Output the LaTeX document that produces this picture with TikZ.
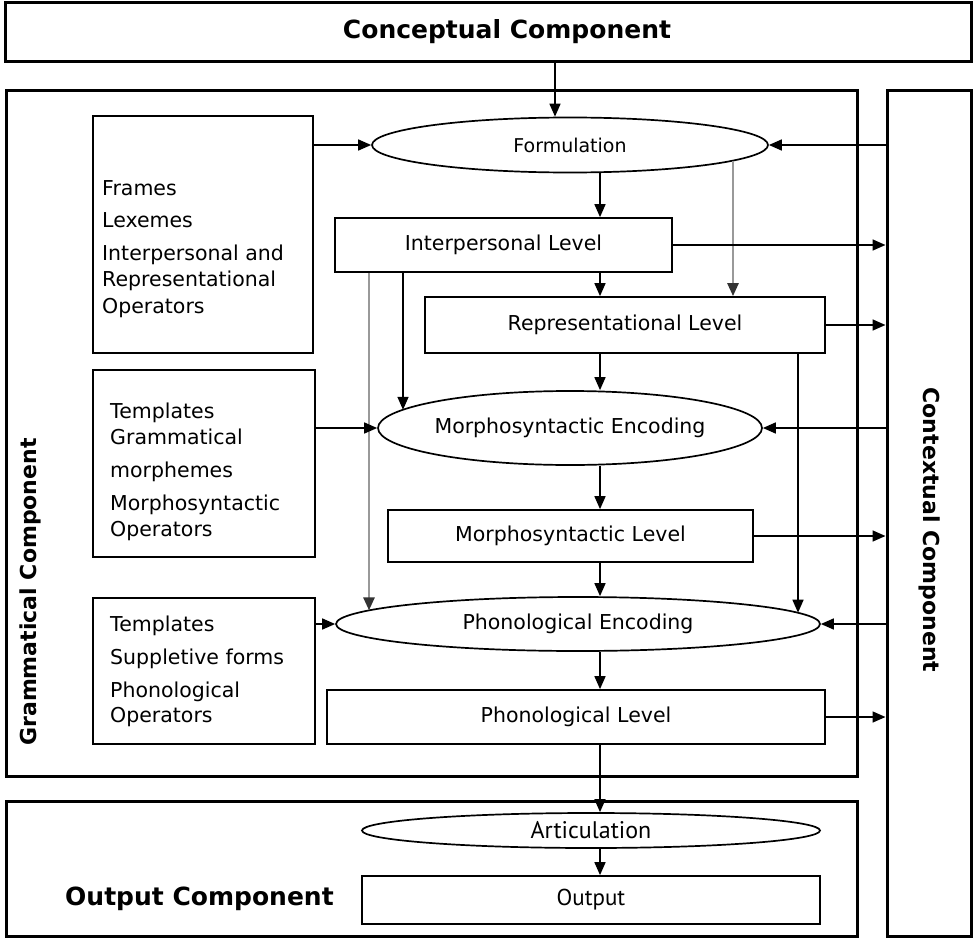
\documentclass[tikz,border=0pt]{standalone}
\usepackage{fontspec}
\setmainfont{DejaVu Sans}
\newfontfamily\ptsans{PT Sans}
\usetikzlibrary{arrows.meta,shapes.geometric,calc}
\begin{document}
\begin{tikzpicture}[x=1pt,y=-1pt,
  outerbox/.style={draw, line width=3pt, inner sep=0pt},
  innerbox/.style={draw, line width=1.7pt, inner sep=0pt, font=\fontsize{20.5}{24}\selectfont},
  ell/.style={draw, ellipse, line width=1.7pt, inner sep=0pt, font=\fontsize{20.5}{24}\selectfont},
  titletext/.style={font=\bfseries\fontsize{25}{30}\selectfont, inner sep=0pt},
  sidetext/.style={font=\bfseries\fontsize{22}{26}\selectfont, inner sep=0pt},
  listtext/.style={font=\fontsize{20.5}{24}\selectfont, inner sep=0pt, anchor=base west},
  arr/.style={line width=1.6pt, -{Triangle[length=13pt,width=11pt]}},
  garr/.style={line width=2.6pt, draw=black!40, -{Triangle[length=13pt,width=11pt,color=black!80]}}
]
\useasboundingbox (0,0) rectangle (974,939);
% outer components
\node[outerbox, minimum width=966pt, minimum height=59pt] (cc) at (488,32.5) {};
\node[titletext] (cct) at (507,32) {Conceptual Component};
\node[outerbox, minimum width=851pt, minimum height=685pt] (gc) at (431.5,433.5) {};
\node[outerbox, minimum width=84pt, minimum height=845pt] (ctx) at (929,513.5) {};
\node[outerbox, minimum width=851pt, minimum height=135pt] (oc) at (431.5,868.5) {};
\node[sidetext, rotate=90] (gct) at (30,592) {Grammatical Component};
\node[sidetext, rotate=-90] (xct) at (930,530) {Contextual Component};
\node[titletext, anchor=west] (oct) at (65,899) {Output Component};

% left boxes
\node[innerbox, minimum width=220pt, minimum height=237pt] (lb) at (203,234.5) {};
\node[listtext] (t11) at (102,195) {Frames};
\node[listtext] (t12) at (102,227) {Lexemes};
\node[listtext] (t13) at (102,260) {Interpersonal and};
\node[listtext] (t14) at (102,286) {Representational};
\node[listtext] (t15) at (102,313) {Operators};

\node[innerbox, minimum width=222pt, minimum height=187pt] (mb) at (204,463.5) {};
\node[listtext] (t21) at (110,418) {Templates};
\node[listtext] (t22) at (110,444) {Grammatical};
\node[listtext] (t23) at (110,477) {morphemes};
\node[listtext] (t24) at (110,510) {Morphosyntactic};
\node[listtext] (t25) at (110,536) {Operators};

\node[innerbox, minimum width=222pt, minimum height=146pt] (pb) at (204,671) {};
\node[listtext] (t31) at (110,631) {Templates};
\node[listtext] (t32) at (110,664) {Suppletive forms};
\node[listtext] (t33) at (110,697) {Phonological};
\node[listtext] (t34) at (110,722) {Operators};

% central chain
\node[ell, minimum width=396pt, minimum height=55pt, font=\fontsize{19}{23}\selectfont] (form) at (570,145) {Formulation};
\node[innerbox, minimum width=337pt, minimum height=54pt] (il) at (503.5,245) {Interpersonal Level};
\node[innerbox, minimum width=400pt, minimum height=56pt] (rl) at (625,325) {Representational Level};
\node[ell, minimum width=384pt, minimum height=74pt] (me) at (570,428) {Morphosyntactic Encoding};
\node[innerbox, minimum width=365pt, minimum height=52pt] (ml) at (570.5,536) {Morphosyntactic Level};
\node[ell, minimum width=484pt, minimum height=54pt] (pe) at (578,624) {Phonological Encoding};
\node[innerbox, minimum width=498pt, minimum height=54pt] (pl) at (576,717) {Phonological Level};
\node[ell, minimum width=458pt, minimum height=35pt, font=\ptsans\fontsize{24}{28}\selectfont] (art) at (591,830.5) {Articulation};
\node[innerbox, minimum width=458pt, minimum height=48pt, font=\ptsans\fontsize{23}{27}\selectfont] (out) at (591,900) {Output};

% connectors
\draw[arr] (cc.south -| 555,0) -- (555,0 |- form.north);
\draw[arr] (lb.east |- form.west) -- (form.west);
\draw[arr] (ctx.west |- form.east) -- (form.east);
\draw[arr] (form.south -| 600,0) -- (il.north -| 600,0);
\draw[garr] ($(form.center)+(163,15.6)$) -- (rl.north -| 733,0);
\draw[arr] (il.east) -- (ctx.west |- il.east);
\draw[arr] (il.south -| 600,0) -- (rl.north -| 600,0);
\draw[arr] (rl.east) -- (ctx.west |- rl.east);
\draw[arr] (il.south -| 403,0) -- ($(me.center)+(-167,-18.2)$);
\draw[garr] (il.south -| 369,0) -- ($(pe.center)+(-209,-13.6)$);
\draw[arr] (mb.east |- me.west) -- (me.west);
\draw[arr] (ctx.west |- me.east) -- (me.east);
\draw[arr] (rl.south -| 600,0) -- (me.north -| 600,0);
\draw[arr] (me.south -| 600,0) -- (ml.north -| 600,0);
\draw[arr] (ml.east) -- (ctx.west |- ml.east);
\draw[arr] (rl.south -| 798,0) -- ($(pe.center)+(220,-11.3)$);
\draw[arr] (ml.south -| 600,0) -- (pe.north -| 600,0);
\draw[arr] (pb.east |- pe.west) -- (pe.west);
\draw[arr] (ctx.west |- pe.east) -- (pe.east);
\draw[arr] (pe.south -| 600,0) -- (pl.north -| 600,0);
\draw[arr] (pl.east) -- (ctx.west |- pl.east);
\draw[arr] (pl.south -| 600,0) -- (art.north -| 600,0);
\draw[arr] (art.south -| 600,0) -- (out.north -| 600,0);
\end{tikzpicture}
\end{document}
